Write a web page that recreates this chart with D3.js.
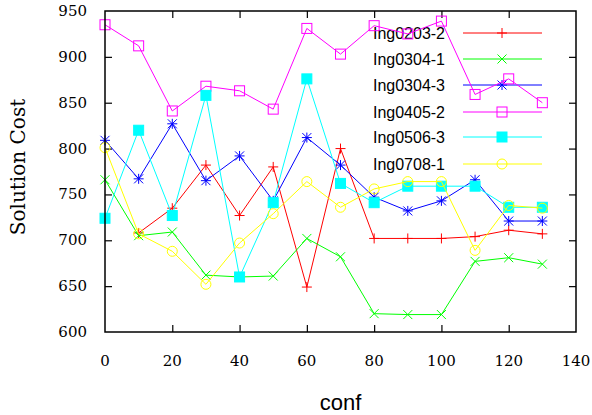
<!DOCTYPE html>
<html>
<head>
<meta charset="utf-8">
<script src="https://cdn.jsdelivr.net/npm/d3@7"></script>
<style>
  html, body { margin: 0; padding: 0; background: #fff; }
  svg { display: block; }
</style>
</head>
<body>
<svg id="chart" width="592" height="415"></svg>
<script>
// ---- data ----
const confs = [0, 10, 20, 30, 40, 50, 60, 70, 80, 90, 100, 110, 120, 130];
const seriesNames = ["Ing0203-2", "Ing0304-1", "Ing0304-3", "Ing0405-2", "Ing0506-3", "Ing0708-1"];
const ing0203_2 = [null, 708, 735, 782, 727, 780, 649, 800, 702, 702, 702, 704, 711, 707];
const ing0304_1 = [766, 705, 709, 662, 660, 661, 702, 682, 620, 619, 619, 677, 681, 674];
const ing0304_3 = [809, 767, 827, 765, 792, 743, 812, 782, 747, 732, 743, 766, 721, 721];
const ing0405_2 = [935, 912, 841, 868, 863, 843, 931, 903, 934, 925, 939, 859, 876, 850];
const ing0506_3 = [724, 820, 727, 858, 660, 741, 876, 762, 741, 759, 759, 759, 736, 736];
const ing0708_1 = [801, 707, 688, 652, 697, 729, 764, 736, 756, 764, 764, 689, 738, 735];
const xTicks = [0, 20, 40, 60, 80, 100, 120, 140];
const yTicks = [600, 650, 700, 750, 800, 850, 900, 950];
const xLabel = "conf";
const yLabel = "Solution Cost";

const allValues = [ing0203_2, ing0304_1, ing0304_3, ing0405_2, ing0506_3, ing0708_1];
const colors = ["#ff0000", "#00ff00", "#0000ff", "#ff00ff", "#00ffff", "#ffff00"];
const markers = ["plus", "cross", "star", "square", "fsquare", "circle"];

// ---- layout ----
const svg = d3.select("#chart");
const pL = 105, pR = 576, pT = 11, pB = 332;
const x = d3.scaleLinear().domain([0, 140]).range([pL, pR]);
const y = d3.scaleLinear().domain([600, 950]).range([pB, pT]);

// axes (ticks inside, mirrored)
const tickLen = 7;
const axG = svg.append("g");
axG.append("g").attr("transform", `translate(0,${pB})`).call(d3.axisTop(x).tickValues(xTicks).tickSize(tickLen).tickFormat(""));
axG.append("g").attr("transform", `translate(0,${pT})`).call(d3.axisBottom(x).tickValues(xTicks).tickSize(tickLen).tickFormat(""));
axG.append("g").attr("transform", `translate(${pL},0)`).call(d3.axisRight(y).tickValues(yTicks).tickSize(tickLen).tickFormat(""));
axG.append("g").attr("transform", `translate(${pR},0)`).call(d3.axisLeft(y).tickValues(yTicks).tickSize(tickLen).tickFormat(""));
axG.selectAll(".domain").remove();
axG.selectAll(".tick line").attr("stroke", "#000").attr("stroke-width", 1.2);
axG.selectAll(".tick").filter(d => d === 0 || d === 140 || d === 600 || d === 950).remove();

// tick labels
svg.append("g").selectAll("text").data(xTicks).join("text")
  .attr("x", d => x(d)).attr("y", 366)
  .attr("text-anchor", "middle")
  .attr("font-family", "DejaVu Serif").attr("font-size", 15)
  .text(d => d);
svg.append("g").selectAll("text").data(yTicks).join("text")
  .attr("x", 87).attr("y", d => y(d) + 5)
  .attr("text-anchor", "end")
  .attr("font-family", "DejaVu Serif").attr("font-size", 15)
  .text(d => d);

svg.append("text").attr("x", (pL + pR) / 2).attr("y", 410)
  .attr("text-anchor", "middle").attr("font-family", "Liberation Sans").attr("font-size", 22)
  .text(xLabel);
svg.append("text").attr("transform", `translate(25,167) rotate(-90)`)
  .attr("text-anchor", "middle").attr("font-family", "DejaVu Serif").attr("font-size", 20)
  .text(yLabel);

// marker drawing
function drawMarker(g, type, cx, cy, color) {
  const s = 5, t = 4.5;
  if (type === "plus") {
    g.append("path").attr("d", `M${cx - s},${cy}H${cx + s}M${cx},${cy - s}V${cy + s}`)
      .attr("stroke", color).attr("fill", "none");
  } else if (type === "cross") {
    g.append("path").attr("d", `M${cx - t},${cy - t}L${cx + t},${cy + t}M${cx - t},${cy + t}L${cx + t},${cy - t}`)
      .attr("stroke", color).attr("fill", "none");
  } else if (type === "star") {
    g.append("path").attr("d", `M${cx - s},${cy}H${cx + s}M${cx},${cy - s}V${cy + s}M${cx - t},${cy - t}L${cx + t},${cy + t}M${cx - t},${cy + t}L${cx + t},${cy - t}`)
      .attr("stroke", color).attr("fill", "none");
  } else if (type === "square") {
    g.append("rect").attr("x", cx - 5).attr("y", cy - 5).attr("width", 10).attr("height", 10)
      .attr("stroke", color).attr("fill", "none");
  } else if (type === "fsquare") {
    g.append("rect").attr("x", cx - 5).attr("y", cy - 5).attr("width", 10).attr("height", 10)
      .attr("stroke", color).attr("fill", color);
  } else if (type === "circle") {
    g.append("circle").attr("cx", cx).attr("cy", cy).attr("r", 5)
      .attr("stroke", color).attr("fill", "none");
  }
}

const line = d3.line().defined(d => d.v !== null).x(d => x(d.c)).y(d => y(d.v));
const legendY = [33, 59, 85, 112, 137, 164];

seriesNames.forEach((name, i) => {
  const pts = confs.map((c, j) => ({ c, v: allValues[i][j] }));
  const g = svg.append("g").attr("stroke-width", 1);
  g.append("path").datum(pts).attr("d", line)
    .attr("fill", "none").attr("stroke", colors[i]).attr("stroke-width", 1);
  pts.filter(d => d.v !== null).forEach(d => drawMarker(g, markers[i], x(d.c), y(d.v), colors[i]));
  const ly = legendY[i];
  const lg = svg.append("g");
  lg.append("text").attr("x", 445).attr("y", ly + 6).attr("text-anchor", "end")
    .attr("font-family", "Liberation Sans").attr("font-size", 16).text(name);
  lg.append("line").attr("x1", 463).attr("x2", 542).attr("y1", ly).attr("y2", ly)
    .attr("stroke", colors[i]).attr("stroke-width", 1);
  drawMarker(lg, markers[i], 502, ly, colors[i]);
});

// frame
svg.append("rect").attr("x", pL).attr("y", pT).attr("width", pR - pL).attr("height", pB - pT)
  .attr("fill", "none").attr("stroke", "#000").attr("stroke-width", 1.5);
</script>
</body>
</html>
